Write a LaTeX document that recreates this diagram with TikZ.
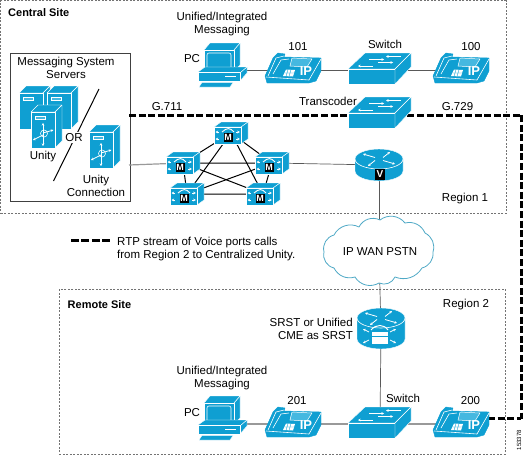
\documentclass[tikz,border=0pt]{standalone}
\usepackage{fontspec}
\setmainfont{Liberation Sans}
\usetikzlibrary{arrows.meta,calc}
\definecolor{cblue}{HTML}{0F9FD2}
\definecolor{clight}{HTML}{45B8E0}
\definecolor{ccloud}{HTML}{4FA9C6}
\tikzset{
  txt/.style={font=\fontsize{11.5}{13}\selectfont,inner sep=0pt,align=center},
  boldtxt/.style={font=\fontsize{11}{13}\selectfont\bfseries,inner sep=0pt},
  hub/.style={inner sep=0pt,minimum size=2pt},
  site/.style={draw=black!55,line width=.7pt,dash pattern=on 2pt off 1.5pt},
  thin link/.style={draw=black!65,line width=.7pt},
  gray link/.style={draw=black!40,line width=1.2pt},
  mesh/.style={draw=black,line width=1pt},
  rtp/.style={draw=black,line width=3pt,dash pattern=on 7pt off 2.6pt},
  face/.style={fill=cblue,draw=white,line width=.4pt,line join=round},
  wl/.style={draw=white,line width=.6pt},
  wa/.style={draw=white,line width=.8pt,-{Stealth[length=2.6pt,width=2.6pt]}},
  phone/.pic={
    \path[fill=cblue,draw=cblue,line join=round] (0,23)--(8,5)--(13,0)--(20,1)--(19,4)--(56,5)--(56,18)--(51,28)--(44,30)--(2,30)--cycle;
    \draw[wl] (1,24)--(44,27)--(56,6);
    \draw[wl] (3,23)--(11,5)--(19,3);
    \draw[wl] (8,21)--(16,7)--(24,6);
    \path[fill=clight,draw=white,line width=.5pt] (27,5)--(47,6)--(42,14)--(25,13)--cycle;
    \path[fill=white] (18,23)--(28,23.5)--(30,17)--(21,16.5)--cycle;
    \draw[cblue,line width=.35pt] (20,20)--(29,20) (23,16.5)--(21,23.5) (26,16.5)--(24,23.5);
    \node[font=\fontsize{13}{13}\selectfont\bfseries,text=white,inner sep=0pt] (ip) at (41,18.5) {IP};
  },
  switchbox/.pic={
    \path[face] (0,16)--(17,0)--(63,0)--(47,16)--cycle;
    \path[face] (0,16)--(47,16)--(47,31)--(0,31)--cycle;
    \path[face] (47,16)--(63,0)--(63,14)--(47,31)--cycle;
    \draw[wa] (21,6.5)--(36,6.5); \draw[wa] (53,3.5)--(38,3.5);
    \draw[wa] (25,13)--(10,13); \draw[wa] (30,9.5)--(45,9.5);
  },
  pcicon/.pic={
    \path[face] (7,7)--(13,0)--(43,0)--(43,22)--(37,29)--(7,29)--cycle;
    \path[face] (7,7)--(37,7)--(37,29)--(7,29)--cycle;
    \draw[wl] (37,7)--(43,0);
    \path[fill=cblue,draw=white,line width=.6pt,rounded corners=2pt] (10,10)--(34,10)--(34,26)--(10,26)--cycle;
    \path[face] (1,29)--(8,24)--(50,24)--(43,30)--(43,38)--(1,38)--cycle;
    \path[face] (43,30)--(50,24)--(50,30)--(43,38)--cycle;
    \path[face] (1,29)--(43,29)--(43,38)--(1,38)--cycle;
    \draw[wl] (28,33)--(39,33);
    \path[fill=cblue,draw=white,line width=.4pt] (5,39.5)--(36,39.5)--(33,44)--(2,44)--cycle;
  },
  serverbox/.pic={
    \path[face] (0,7)--(7,0)--(31,0)--(24,7)--cycle;
    \path[face] (24,7)--(31,0)--(31,36)--(24,43)--cycle;
    \path[face] (0,7)--(24,7)--(24,43)--(0,43)--cycle;
    \path[fill=clight,draw=white,line width=.5pt] (4,11)--(14,11)--(14,14.5)--(4,14.5)--cycle;
  },
  swirl/.pic={
    \draw[wa] (12,25)--(12,18); \draw[wa] (12,25)--(12,41);
    \draw[wa] (12,28)--(22.5,25); \draw[wa] (12,30)--(2,35);
    \draw[wl] (13,28.5) circle (3.5);
  },
  mcu/.pic={
    \path[face] (0,5)--(7,0)--(34,0)--(27,5)--cycle;
    \path[face] (27,5)--(34,0)--(34,17)--(27,22)--cycle;
    \path[face] (0,5)--(27,5)--(27,22)--(0,22)--cycle;
    \draw[white,line width=.9pt] (8,10) .. controls (13,5.5) and (16,5.5) .. (20,10);
    \draw[wa] (5,10)--(1.5,10); \draw[wa] (5,17)--(1.5,17);
    \draw[wa] (22,10)--(25.8,10); \draw[wa] (22,17)--(25.8,17);
    \node[fill=black,text=white,font=\fontsize{9}{9}\selectfont\bfseries,inner sep=.6pt,minimum width=9pt,minimum height=9pt] (m) at (14,15.5) {M};
  },
  routertop/.pic={
    \path[fill=cblue,draw=white,line width=.4pt] (0,10) .. controls (0,4.5) and (10.7,0) .. (24,0) .. controls (37.3,0) and (48,4.5) .. (48,10) -- (48,#1) .. controls (48,#1+5.5) and (37.3,#1+10) .. (24,#1+10) .. controls (10.7,#1+10) and (0,#1+5.5) .. (0,#1) -- cycle;
    \draw[wl] (0,10) .. controls (0,15.5) and (10.7,20) .. (24,20) .. controls (37.3,20) and (48,15.5) .. (48,10);
    \draw[wa] (20,8.5)--(8,5); \draw[wa] (28,11.5)--(40,15);
    \draw[wa] (28,8.5)--(35,3); \draw[wa] (20,11.5)--(13,17);
  },
}
\begin{document}
\begin{tikzpicture}[x=1pt,y=-1pt]
\useasboundingbox (0,0) rectangle (524,455);
% sites
\node[site,minimum width=505pt,minimum height=213pt,inner sep=0pt,anchor=north west] (central) at (.5,.2) {};
\node[site,minimum width=446pt,minimum height=165pt,inner sep=0pt,anchor=north west] (remote) at (59,289) {};
\node[draw=black!75,line width=.7pt,minimum width=120pt,minimum height=148pt,inner sep=0pt,anchor=north west] (msgbox) at (9.5,52.5) {};
% connection points
\node[hub] (pc1) at (225,70) {};
\node[hub] (p101) at (293,70) {};
\node[hub] (sw1) at (380,70) {};
\node[hub] (p100) at (461,70) {};
\node[hub] (trans) at (380,115) {};
\coordinate (g711) at (129,115);
\coordinate (bendA) at (521,115);
\coordinate (bendB) at (521,418.5);
\node[hub] (p200r) at (488,418.5) {};
\coordinate (msgport) at (129,165);
\node[hub] (mt) at (231,133) {};
\node[hub] (ml) at (183,163) {};
\node[hub] (mr) at (272,163) {};
\node[hub] (mbl) at (187,194) {};
\node[hub] (mbr) at (263,194) {};
\node[hub] (rv) at (379,165) {};
\node[hub] (cloud) at (379,252) {};
\node[hub] (srst) at (381,330) {};
\node[hub] (pc2) at (225,424) {};
\node[hub] (p201) at (293,424) {};
\node[hub] (sw2) at (380,424) {};
\node[hub] (p200) at (461,424) {};
\coordinate (legA) at (71,240.5);
\coordinate (legB) at (111,240.5);
% connectors
\draw[thin link] (pc1.center)--(p101.center);
\draw[thin link] (p101.center)--(sw1.center);
\draw[thin link] (sw1.center)--(p100.center);
\draw[rtp] (g711)--(trans.center)--(bendA);
\draw[rtp] (bendA)--(bendB);
\draw[rtp] (p200r.center)--(bendB);
\draw[rtp,dash pattern=on 8pt off 2.4pt] (legA)--(legB);
\draw[gray link] (msgport)--(ml.center);
\draw[mesh] (mt.center)--(ml.center) (mt.center)--(mr.center) (mt.center)--(mbl.center) (mt.center)--(mbr.center);
\draw[mesh] (ml.center)--(mr.center) (ml.center)--(mbl.center) (ml.center)--(mbr.center);
\draw[mesh] (mr.center)--(mbl.center) (mr.center)--(mbr.center) (mbl.center)--(mbr.center);
\draw[thin link] (mr.center)--(rv.center);
\draw[thin link] (rv.center)--(cloud.center);
\draw[thin link] (cloud.center)--(srst.center);
\draw[thin link] (srst.center)--(sw2.center);
\draw[gray link] (pc2.center)--(p201.center);
\draw[gray link] (p201.center)--(sw2.center);
\draw[gray link] (sw2.center)--(p200.center);
% slash
\coordinate (slashA) at (99,89);
\coordinate (slashB) at (53.5,181);
\draw[draw=black,line width=1pt] (slashA)--(slashB);
% icons
\pic (pcA) at (197,43) {pcicon};
\pic (phA) at (265,53) {phone};
\pic (swA) at (348,53) {switchbox};
\pic (phB) at (433,53) {phone};
\pic (swT) at (348,97) {switchbox};
\pic (srvA) at (19,86) {serverbox};
\pic (srvB) at (47,86) {serverbox};
\pic (srvC) at (31,105) {serverbox};
\pic (swC) at (31,105) {swirl};
\pic (srvD) at (89,125) {serverbox};
\pic (swD) at (89,125) {swirl};
\pic (mA) at (214,122) {mcu};
\pic (mB) at (166,152) {mcu};
\pic (mC) at (255,152) {mcu};
\pic (mD) at (170,183) {mcu};
\pic (mE) at (246,183) {mcu};
\pic (rA) at (355,149) {routertop=22};
\node[fill=black,text=white,font=\fontsize{10}{10}\selectfont\bfseries,inner sep=0pt,minimum width=10pt,minimum height=11pt] (vbox) at (380,174.5) {V};
% cloud
\path[fill=white,draw=ccloud,line width=.8pt]
  (324,252) to[bend left=45] (334,235) to[bend left=45] (359,227) to[bend left=45] (380,220)
  to[bend left=45] (405,223) to[bend left=40] (425,233) to[bend left=40] (433,252)
  to[bend left=40] (422,268) to[bend left=40] (395,277) to[bend left=45] (379,283)
  to[bend left=45] (355,277) to[bend left=40] (334,268) to[bend left=45] (324,252) -- cycle;
\pic (rB) at (357,308) {routertop=31};
\path[fill=white,draw=cblue,line width=.3pt] (371,331) rectangle (388,344);
\draw[cblue,line width=.8pt] (371,336)--(388,336);
\draw[white,line width=1pt] (371,330) .. controls (376,324) and (384,324) .. (388,330);
\draw[wa] (369,332)--(363,329); \draw[wa] (369,340)--(363,343);
\draw[wa] (390,332)--(396,329); \draw[wa] (390,340)--(396,343);
\pic (pcB) at (197,396) {pcicon};
\pic (phC) at (265,407) {phone};
\pic (swB) at (348,407) {switchbox};
\pic (phD) at (433,407) {phone};
% labels
\node[boldtxt,anchor=west] (tCentral) at (8,13) {Central Site};
\node[boldtxt,anchor=west] (tRemote) at (67.5,305) {Remote Site};
\node[txt] (tUm1) at (222,24.5) {Unified/Integrated\\Messaging};
\node[txt] (tUm2) at (222,378.5) {Unified/Integrated\\Messaging};
\node[txt] (tPc1) at (192,58.5) {PC};
\node[txt] (tPc2) at (192,413) {PC};
\node[txt] (t101) at (298,47) {101};
\node[txt] (t100) at (471,47) {100};
\node[txt] (t201) at (297,401) {201};
\node[txt] (t200) at (470.5,401) {200};
\node[txt] (tSw1) at (385,44) {Switch};
\node[txt] (tSw2) at (403,398) {Switch};
\node[txt] (tTrans) at (328,101) {Transcoder};
\node[txt] (tG711) at (167,107) {G.711};
\node[txt] (tG729) at (457.5,107) {G.729};
\node[txt] (tMsg) at (66,67.5) {Messaging System\\Servers};
\node[txt] (tUnity) at (43,157) {Unity};
\node[txt,fill=white,inner sep=1.5pt] (tOr) at (74,137.5) {OR};
\node[txt] (tConn) at (96,185.5) {Unity\\Connection};
\node[txt] (tR1) at (465,199) {Region 1};
\node[txt] (tR2) at (466,305) {Region 2};
\node[txt] (tWan) at (380,252) {IP WAN PSTN};
\node[txt,align=right,anchor=east] (tSrst) at (353,328.5) {SRST or Unified\\CME as SRST};
\node[txt,align=left,anchor=west] (tLeg) at (117,249) {RTP stream of Voice ports calls\\from Region 2 to Centralized Unity.};
\node[font=\fontsize{6}{6}\selectfont,inner sep=0pt,rotate=90] (tNum) at (519,440) {153378};
\end{tikzpicture}
\end{document}
